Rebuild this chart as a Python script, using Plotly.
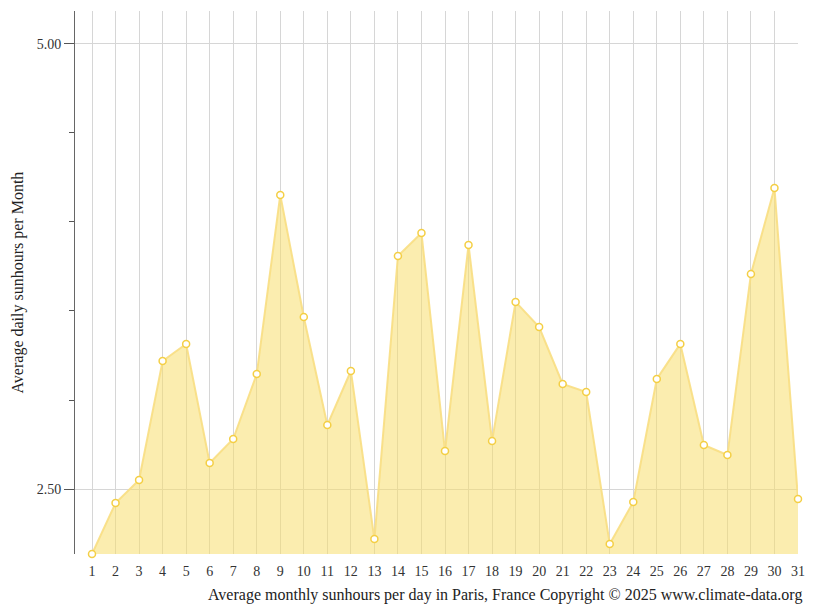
import plotly.graph_objects as go

days = list(range(1, 32))
sunhours = [2.135, 2.421, 2.551, 3.219, 3.315, 2.646, 2.781, 3.146, 4.152, 3.466,
            2.860, 3.163, 2.219, 3.809, 3.938, 2.713, 3.871, 2.770, 3.551, 3.410,
            3.090, 3.045, 2.191, 2.427, 3.118, 3.315, 2.747, 2.691, 3.708, 4.191, 2.444]

ymin = min(sunhours)

fig = go.Figure(go.Scatter(
    x=days, y=sunhours, mode="lines+markers",
    fill="tozeroy", fillcolor="rgba(247,223,110,0.55)",
    line=dict(color="rgba(248,222,130,0.9)", width=2),
    marker=dict(size=7, color="white", line=dict(color="#f4cf45", width=1.5)),
    cliponaxis=False, hoverinfo="x+y",
))

# page body has an 8px margin, so the figure is a bit smaller than the window
font = "Liberation Serif, Times New Roman, serif"
fig.update_layout(
    width=807, height=603, paper_bgcolor="white", plot_bgcolor="white",
    margin=dict(l=67, r=17, t=3, b=57), showlegend=False,
    font=dict(family=font, size=14, color="#333"),
    xaxis=dict(range=[1 - 17 / 23.53, 31], tickmode="array", tickvals=days,
               showgrid=True, gridcolor="#d6d6d6", gridwidth=1, zeroline=False,
               showline=False, ticks="outside", ticklen=4, tickcolor="rgba(0,0,0,0)",
               automargin=False, tickfont=dict(size=14, color="#333")),
    yaxis=dict(range=[ymin, 5.185], tick0=0, dtick=2.5, tickformat=".2f",
               showgrid=True, gridcolor="#d6d6d6", zeroline=False,
               showline=True, linecolor="#666", linewidth=1,
               ticks="outside", ticklen=10, tickcolor="#555",
               minor=dict(dtick=0.5, ticks="outside", ticklen=5, tickcolor="#555", showgrid=False),
               automargin=False, tickfont=dict(size=14, color="#333")),
    annotations=[
        dict(text="Average monthly sunhours per day in Paris, France Copyright © 2025 www.climate-data.org",
             xref="paper", yref="paper", x=1.008, y=-0.055, xanchor="right", yanchor="top",
             showarrow=False, font=dict(size=16, color="#222")),
        dict(text="Average daily sunhours per Month", textangle=-90,
             xref="paper", yref="paper", x=-0.0802, y=0.5, xanchor="center", yanchor="middle",
             showarrow=False, font=dict(size=16, color="#222")),
    ],
)

fig.write_html("out.html")
